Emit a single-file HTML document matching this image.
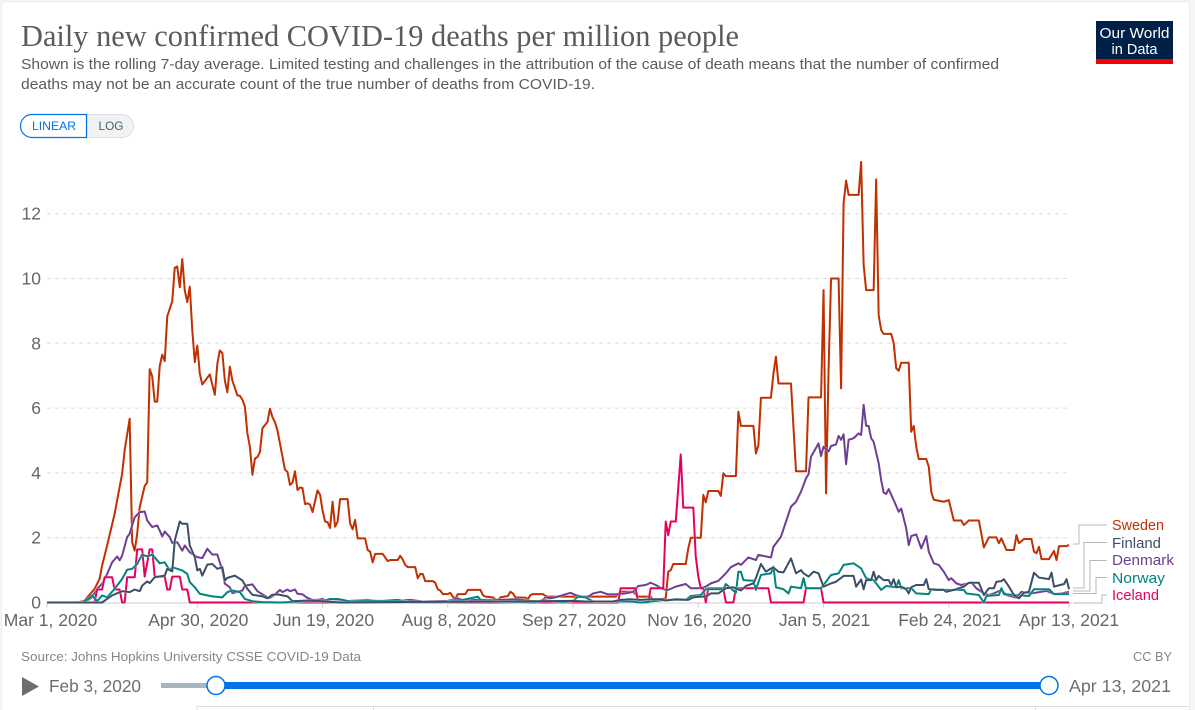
<!DOCTYPE html>
<html lang="en">
<head>
<meta charset="utf-8">
<title>Daily new confirmed COVID-19 deaths per million people</title>
<style>
html,body{margin:0;padding:0;background:#f6f6f6;width:1195px;height:710px;overflow:hidden}
svg{display:block}
text{font-family:"Liberation Sans",sans-serif}
.serif{font-family:"Liberation Serif",serif}
</style>
</head>
<body>
<svg id="chart" xmlns="http://www.w3.org/2000/svg" width="1195" height="710" viewBox="0 0 1195 710">
  <rect x="1.5" y="1.5" width="1188" height="720" rx="4" fill="#fff" stroke="#ececec"/>
  <text class="serif" x="21" y="46" font-size="31" fill="#5b5b5b" textLength="718" lengthAdjust="spacingAndGlyphs">Daily new confirmed COVID-19 deaths per million people</text>
  <text x="21" y="69" font-size="14.5" fill="#5b5b5b" textLength="978" lengthAdjust="spacingAndGlyphs">Shown is the rolling 7-day average. Limited testing and challenges in the attribution of the cause of death means that the number of confirmed</text>
  <text x="21" y="89" font-size="14.5" fill="#5b5b5b" textLength="574" lengthAdjust="spacingAndGlyphs">deaths may not be an accurate count of the true number of deaths from COVID-19.</text>

  <g>
    <rect x="1096" y="21" width="77" height="38" fill="#002147"/>
    <rect x="1096" y="59" width="77" height="5" fill="#f00000"/>
    <text x="1134.5" y="38" font-size="15" fill="#fff" text-anchor="middle" textLength="70" lengthAdjust="spacingAndGlyphs">Our World</text>
    <text x="1134.5" y="54" font-size="15" fill="#fff" text-anchor="middle" textLength="46" lengthAdjust="spacingAndGlyphs">in Data</text>
  </g>

  <g>
    <path d="M87 114.5H122a11.5 11.5 0 0 1 0 23H87Z" fill="#f2f2f2" stroke="#dcdfe3"/>
    <path d="M86.5 114.5H32a11.5 11.5 0 0 0 0 23H86.5Z" fill="#fff" stroke="#0073e6" stroke-width="1.2"/>
    <text x="32" y="130" font-size="12" fill="#0073e6" textLength="44" lengthAdjust="spacingAndGlyphs">LINEAR</text>
    <text x="98.5" y="130" font-size="12" fill="#3f6276" textLength="25" lengthAdjust="spacingAndGlyphs">LOG</text>
  </g>

  <g id="grid"></g>
  <g id="yaxis"></g>
  <g id="xaxis"></g>
  <g id="series"></g>

  <g>
    <g fill="none" stroke="#b8b8b8" stroke-width="1">
      <path d="M1073 544H1079V525H1107"/>
      <path d="M1073 588H1084V542.5H1107"/>
      <path d="M1073 591H1090V560.5H1107"/>
      <path d="M1073 593.500H1096V577.500H1107"/>
      <path d="M1073 603H1102V595H1107"/>
    </g>
    <g font-size="14.5">
      <text x="1112" y="530" fill="#c13000" textLength="52" lengthAdjust="spacingAndGlyphs">Sweden</text>
      <text x="1112" y="548" fill="#3c4e66" textLength="49" lengthAdjust="spacingAndGlyphs">Finland</text>
      <text x="1112" y="565" fill="#6d3e91" textLength="62" lengthAdjust="spacingAndGlyphs">Denmark</text>
      <text x="1112" y="583" fill="#00847e" textLength="53" lengthAdjust="spacingAndGlyphs">Norway</text>
      <text x="1112" y="600" fill="#e6005e" textLength="47" lengthAdjust="spacingAndGlyphs">Iceland</text>
    </g>
  </g>

  <text x="21" y="661" font-size="13" fill="#858585" textLength="340" lengthAdjust="spacingAndGlyphs">Source: Johns Hopkins University CSSE COVID-19 Data</text>
  <text x="1133" y="661" font-size="13" fill="#858585" textLength="39" lengthAdjust="spacingAndGlyphs">CC BY</text>

  <g>
    <path d="M22 677L39 686.500L22 696Z" fill="#6e6e6e"/>
    <text x="49" y="692" font-size="17.500" fill="#6e6e6e" textLength="92" lengthAdjust="spacingAndGlyphs">Feb 3, 2020</text>
    <rect x="161" y="683" width="55" height="5" fill="#a9b5bc"/>
    <rect x="216" y="682" width="833" height="7" fill="#0073e6"/>
    <circle cx="216" cy="685.500" r="9" fill="#fff" stroke="#0073e6" stroke-width="1.500"/>
    <circle cx="1049" cy="685.500" r="9" fill="#fff" stroke="#0073e6" stroke-width="1.500"/>
    <text x="1069" y="692" font-size="17.500" fill="#6e6e6e" textLength="102" lengthAdjust="spacingAndGlyphs">Apr 13, 2021</text>
  </g>

  <path d="M197 710V706.500H1189M373.500 706.500V710M1035.500 706.500V710" fill="none" stroke="#dcdcdc"/>
</svg>

<script>
const yTickValues = [0, 2, 4, 6, 8, 10, 12];
const yTickLabels = ["0", "2", "4", "6", "8", "10", "12"];
const xTickDays = [0, 60, 110, 160, 210, 260, 310, 360, 408];
const xTickLabels = ["Mar 1, 2020", "Apr 30, 2020", "Jun 19, 2020", "Aug 8, 2020", "Sep 27, 2020", "Nov 16, 2020", "Jan 5, 2021", "Feb 24, 2021", "Apr 13, 2021"];

const swedenDays = [
0,12,15,19,21,22,24,27,30,31,
33,34,35,36,37,39,40,41,42,43,
44,45,46,47,48,50,51,52,53,54,
55,56,57,58,59,60,61,62,65,67,
68,69,70,71,72,73,74,76,77,78,
79,80,81,82,83,84,85,86,88,89,
90,91,92,93,95,96,97,98,99,100,
101,102,103,104,105,106,108,109,110,111,
112,113,114,115,116,117,120,121,122,123,
124,127,128,129,130,131,134,135,136,137,
140,141,142,143,144,147,148,149,150,151,
154,155,156,157,158,160,161,162,163,164,
167,168,173,174,175,178,179,180,181,184,
185,186,187,191,192,193,194,198,199,200,
227,229,234,236,241,242,247,248,249,250,
255,256,257,261,262,263,264,268,269,270,
271,275,276,277,282,283,284,285,289,290,
291,292,297,298,299,303,304,309,310,311,
312,313,316,317,318,319,320,324,325,326,
327,330,331,332,333,334,337,338,339,340,
341,344,345,346,347,348,351,352,353,354,
358,360,362,365,366,368,372,374,376,379,
380,381,383,386,387,388,390,393,394,395,
396,397,400,402,403,404,407,408];
const swedenValues = [
0,0,.06,.42,.73,1.14,1.76,2.74,3.98,4.7,
5.67,1.86,1.6,2.12,2.94,3.6,3.7,7.2,6.98,6.2,
6.2,7.3,7.65,7.45,8.83,9.3,10.33,10.37,9.73,10.6,
9.63,9.27,9.75,8.4,7.42,7.93,7.06,6.73,7.04,6.41,
7.37,7.78,7.7,6.85,6.49,7.28,6.85,6.39,6.38,6.26,
6.05,5.22,4.8,3.94,4.44,4.49,4.64,5.38,5.57,5.98,
5.72,5.57,5.31,4.9,4.1,4.03,3.63,3.7,4.05,3.47,
3.55,3.53,3.04,3.06,3.02,2.79,3.46,3.33,2.84,2.5,
2.48,2.3,3.11,2.34,2.49,3.19,3.19,2.44,2.26,2.55,
1.98,1.98,1.62,1.57,1.24,1.5,1.5,1.39,1.28,1.31,
1.31,1.44,1.33,1.16,1.09,1.09,.75,.88,.88,.66,
.66,.61,.41,.37,.26,.26,.3,.18,.12,.26,
.26,.39,.39,.23,.18,.16,.1,.06,.16,.2,
.33,.28,.16,.15,.1,.23,.26,.26,.2,.18,
.18,.33,.33,.18,.18,.06,.13,.95,1,1.19,
1.19,1.67,2,2,3.32,3.09,3.44,3.44,3.29,3.99,
3.9,3.9,5.89,5.45,5.45,4.6,4.86,6.32,6.32,7.07,
7.59,6.76,6.76,5.4,4.05,4.05,6.33,6.33,9.64,3.37,
7.18,10,10,6.61,12.32,13.02,12.58,12.58,13.6,10.42,
9.64,9.64,13.06,8.87,8.41,8.29,8.29,8,7.23,7.15,
7.4,7.4,5.27,5.45,4.81,4.43,4.43,4.19,3.42,3.17,
3.11,3.16,2.53,2.53,2.39,2.53,2.53,1.7,2.01,2.01,
1.83,1.98,1.62,1.62,2.08,1.83,1.96,1.96,1.57,1.52,
1.72,1.34,1.34,1.59,1.31,1.74,1.74,1.78];

const denmarkDays = [
0,14,16,18,20,22,24,26,28,29,
30,32,33,35,37,39,40,42,44,45,
46,47,49,50,52,54,55,57,60,62,
64,66,68,70,71,73,74,78,79,82,
84,86,88,89,91,93,94,96,97,99,
100,102,104,106,108,110,112,117,121,128,
134,140,145,150,160,164,166,180,187,197,
199,201,203,206,209,211,214,216,218,221,
224,227,231,234,236,239,241,243,246,248,
251,255,257,261,263,265,268,271,273,276,
277,280,283,284,289,290,293,297,299,301,
303,304,305,308,309,310,312,313,315,316,
317,318,319,320,322,324,325,326,327,328,
329,330,332,333,334,335,336,338,340,341,
343,344,345,347,349,351,352,354,356,358,
360,361,363,365,369,371,374,376,378,381,
383,387,389,393,399,402,405,408];
const denmarkValues = [
0,.01,.06,.16,.42,.58,.88,1.24,1.42,1.3,
1.45,2.02,2.12,2.63,2.79,2.81,2.53,2.33,2.38,2.22,
2.04,2.19,2.02,1.84,1.86,1.6,1.76,1.55,1.4,1.37,
1.66,1.48,1.48,.99,.58,.47,.29,.37,.52,.56,
.35,.25,.16,.14,.25,.39,.32,.4,.35,.4,
.27,.25,.14,.08,.08,.11,.03,.03,.05,.08,
.02,.05,.08,.03,.05,.13,.08,.08,.1,.02,
.16,.13,.16,.23,.3,.23,.18,.18,.28,.33,
.25,.25,.28,.33,.51,.54,.61,.54,.41,.39,
.49,.57,.44,.44,.49,.59,.67,.9,1.09,1.21,
1.16,1.39,1.31,1.47,1.39,1.72,2.03,2.96,3.11,3.42,
3.83,3.96,4.5,4.91,4.52,4.81,4.66,4.83,4.88,5.14,
5.02,5.19,4.27,5.02,5.07,5.22,5.17,6.1,5.45,5.45,
5.07,4.96,4.3,3.78,3.39,3.35,3.5,3.16,2.8,2.9,
2.29,1.77,2.05,2.1,1.67,2.05,1.57,1.21,1.16,.95,
.69,.75,.59,.54,.62,.44,.28,.23,.28,.39,
.23,.15,.33,.28,.36,.26,.28,.33];

const icelandDays = [
0,19,20,22,23,26,27,29,30,31,
32,35,36,38,39,41,42,43,47,48,
49,50,53,54,56,57,228,229,235,236,
240,241,246,247,248,249,251,253,254,258,
259,260,261,262,263,264,270,271,274,275,
288,289,302,303,309,310,408];
const icelandValues = [
0,0,.4,.4,.78,.78,.4,.4,0,0,
.78,.78,1.64,1.64,.8,1.64,1.64,.8,.8,.4,
.4,.8,.8,.4,.4,0,0,.44,.44,0,
0,.44,.44,2.5,2.08,2.5,2.5,4.57,2.93,2.93,
1.41,.8,.44,.44,0,.44,.44,0,0,.44,
.44,0,0,.44,.44,0,0];

const norwayDays = [
0,14,17,18,20,22,24,27,30,32,
34,36,38,40,42,45,47,49,50,52,
54,56,57,59,61,64,66,70,72,74,
77,79,82,86,93,104,110,113,116,118,
121,128,134,140,145,158,162,166,172,173,
180,195,198,206,210,212,215,218,227,233,
237,241,247,255,257,261,263,270,271,275,
276,277,278,282,283,285,289,290,291,294,
296,297,301,302,303,309,311,313,316,318,
322,325,327,330,333,335,339,340,341,345,
347,352,353,359,366,367,372,374,375,380,
381,382,386,392,394,400,402,408];
const norwayValues = [
0,0,.14,.22,.04,.22,.16,.42,.73,1.01,
1.04,1.19,1.48,1.42,1.48,1.21,1.24,.99,1.09,1.04,
.99,.88,.63,.47,.27,.22,.19,.16,.32,.37,
.32,.11,.04,.01,0,.04,.04,.11,.11,.08,
.03,.05,.05,.08,0,0,.05,.08,.18,.08,
.03,0,.08,0,.05,.18,.16,.03,.03,.03,
0,.03,.08,.08,.2,.23,.41,.41,.57,.3,
.95,.95,.69,.67,.39,.85,.9,1.11,.47,.41,
.28,.49,.44,.75,.44,.44,.64,.85,.9,1.16,
1.21,1.05,.75,.69,.39,.51,.47,.69,.44,.44,
.28,.26,.41,.39,.39,.28,.23,0,.2,.23,
.44,.26,.23,.2,.41,.41,.26,.26];

const finlandDays = [
0,22,26,30,33,35,37,38,40,41,
43,47,48,50,51,53,54,56,57,59,
60,61,62,64,66,68,70,71,72,75,
78,80,82,86,88,90,92,96,98,104,
110,117,150,180,210,215,226,229,233,237,
241,245,247,251,256,258,261,263,265,268,
271,274,277,279,282,283,285,287,289,290,
292,294,297,299,301,302,304,306,308,310,
313,315,318,322,323,325,326,327,329,330,
331,332,334,336,337,338,339,341,343,344,
345,347,350,351,352,355,358,359,363,366,
368,372,374,376,378,379,381,382,384,386,
388,390,392,394,396,400,401,402,406,407,
408];
const finlandValues = [
0,0,.22,.35,.32,.4,.35,.52,.65,.6,
.78,.83,1.04,.96,1.91,2.5,2.43,2.43,1.76,1.4,
.99,1.04,.83,1.17,1.19,1.04,1.09,.68,.76,.83,
.68,.42,.24,.19,.13,.24,.25,.19,.04,.06,
.04,0,.02,.03,.05,.03,.03,.08,.1,.08,
.1,.1,.06,.1,.08,.16,.18,.18,.28,.28,
.44,.47,.37,.51,.59,.75,1.19,.95,1.05,1.08,
.95,.93,1.36,.9,1,.9,.8,.95,.9,.49,
.59,.64,.82,.82,.49,.71,.41,.69,.69,.95,
.69,.82,.69,.69,.54,.72,.47,.49,.41,.28,
.47,.54,.54,.72,.41,.39,.39,.33,.41,.49,
.61,.61,.23,.44,.44,.64,.66,.72,.49,.23,
.13,.3,.33,.92,.77,.72,.92,.49,.57,.72,
.41];

const plotLeft = 47, pixelsPerDay = 2.505, plotRight = 1069;
const plotBase = 602.5, pixelsPerUnit = 32.4;
function xScale(day) { return plotLeft + day * pixelsPerDay; }
function yScale(value) { return plotBase - value * pixelsPerUnit; }

const NS = "http://www.w3.org/2000/svg";
function make(tag, parent, attrs) {
  const el = document.createElementNS(NS, tag);
  for (const k in attrs) el.setAttribute(k, attrs[k]);
  parent.appendChild(el);
  return el;
}

const gridGroup = document.getElementById("grid");
const yAxisGroup = document.getElementById("yaxis");
const xAxisGroup = document.getElementById("xaxis");
const seriesGroup = document.getElementById("series");

yTickValues.forEach(function (v, i) {
  const y = yScale(v);
  if (v !== 0) {
    const line = make("line", gridGroup, {x1: plotLeft, x2: plotRight, y1: y, y2: y, stroke: "#dddddd", "stroke-dasharray": "4,4"});
    
    
  }
  const label = make("text", yAxisGroup, {x: 41, y: y + 6, "font-size": 17.5, fill: "#666666", "text-anchor": "end"});
  label.textContent = yTickLabels[i];
  
  
});

const baseline = make("line", xAxisGroup, {x1: plotLeft, x2: plotRight, y1: plotBase + 0.5, y2: plotBase + 0.5, stroke: "#dddddd", "stroke-width": 1.5});



xTickDays.forEach(function (d, i) {
  const x = xScale(d);
  const tick = make("line", xAxisGroup, {x1: x, x2: x, y1: plotBase, y2: plotBase + 5, stroke: "#cccccc"});
  
  
  const cx = i === 0 ? 50.5 : (i === xTickDays.length - 1 ? x : x + 1);
  const label = make("text", xAxisGroup, {x: cx, y: 626, "font-size": 17.5, fill: "#666666", "text-anchor": "middle"});
  label.textContent = xTickLabels[i];
  
  
});

function drawLine(days, values, color, name) {
  const d = days.map(function (day, i) {
    return (i ? "L" : "M") + xScale(day).toFixed(2) + " " + yScale(values[i]).toFixed(2);
  }).join("");
  const halo = make("path", seriesGroup, {d: d, fill: "none", stroke: "#ffffff", "stroke-width": 3, "stroke-opacity": 0.5, "stroke-linejoin": "round"});
  
  
  const path = make("path", seriesGroup, {d: d, fill: "none", stroke: color, "stroke-width": 2, "stroke-linejoin": "round"});
  
  
}

drawLine(swedenDays, swedenValues, "#c13000", "sweden-line");
drawLine(denmarkDays, denmarkValues, "#6d3e91", "denmark-line");
drawLine(icelandDays, icelandValues, "#e6005e", "iceland-line");
drawLine(norwayDays, norwayValues, "#00847e", "norway-line");
drawLine(finlandDays, finlandValues, "#3c4e66", "finland-line");
</script>
</body>
</html>
